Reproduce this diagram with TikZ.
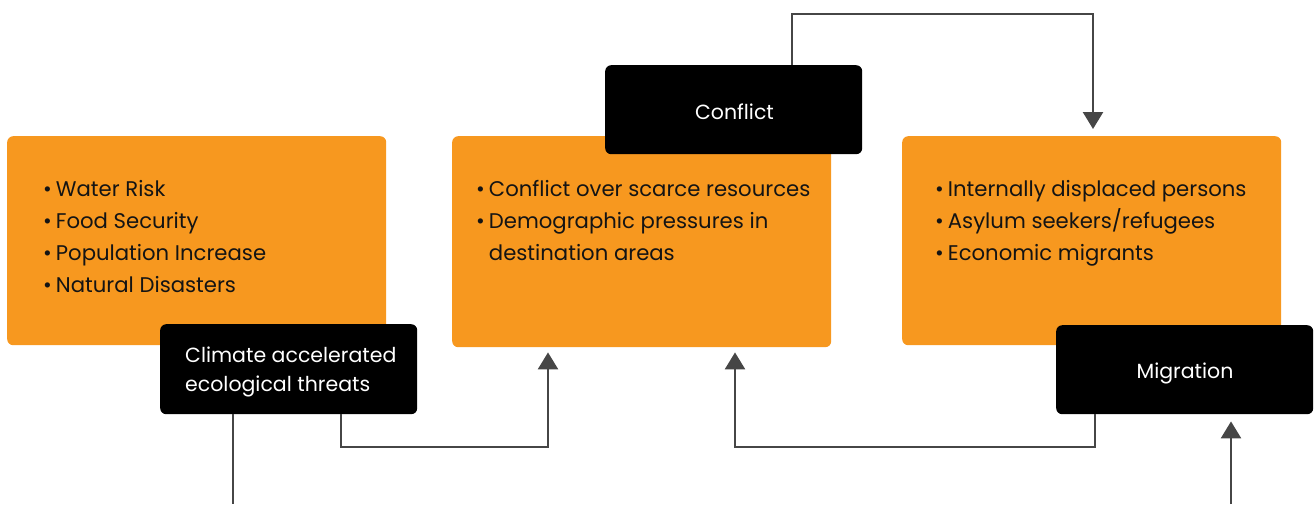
\documentclass[tikz,border=0pt]{standalone}
\usepackage{fontspec}
\setmainfont{Poppins}
\usetikzlibrary{arrows.meta}
\definecolor{orng}{HTML}{F7981F}
\definecolor{linec}{HTML}{464646}
\definecolor{txt}{HTML}{141414}
\begin{document}
\begin{tikzpicture}[x=1pt,y=-1pt,
  obox/.style={fill=orng, rounded corners=6pt, minimum width=379pt, inner sep=0pt, anchor=north west},
  bbox/.style={fill=black, rounded corners=6pt, minimum width=257pt, minimum height=90pt, inner sep=0pt, anchor=north west},
  wtext/.style={text=white, inner sep=0pt, font=\fontsize{20.5}{29.4}\selectfont},
  ltext/.style={text=txt, inner sep=0pt, anchor=north west, font=\fontsize{21.2}{32}\selectfont},
  link/.style={draw=linec, line width=2.5pt},
  conn/.style={link, -{Triangle[width=20pt,length=17pt]}},
]
\useasboundingbox (0,0) rectangle (1314,504);

% orange boxes
\node[obox, minimum height=209pt] (o1) at (7,136) {};
\node[obox, minimum height=211pt] (o2) at (452,136) {};
\node[obox, minimum height=209pt] (o3) at (902,136) {};

% list texts
\node[ltext] (o1t) at (43,173.6) {\begin{tabular}{@{}l@{\hspace{4pt}}l@{}}
•&Water Risk\\
•&Food Security\\
•&Population Increase\\
•&Natural Disasters
\end{tabular}};
\node[ltext] (o2t) at (476,173.6) {\begin{tabular}{@{}l@{\hspace{4pt}}l@{}}
•&Conflict over scarce resources\\
•&Demographic pressures in\\
&destination areas
\end{tabular}};
\node[ltext] (o3t) at (935,173.6) {\begin{tabular}{@{}l@{\hspace{4pt}}l@{}}
•&Internally displaced persons\\
•&Asylum seekers/refugees\\
•&Economic migrants
\end{tabular}};

% black boxes
\node[bbox] (climate) at (160,324) {};
\node[bbox, minimum height=89pt] (conflict) at (605,65) {};
\node[bbox, minimum height=89pt] (migration) at (1056,325) {};

\node[wtext, anchor=base west, align=left] (climatet) at (185,391.7) {Climate accelerated\\ecological threats};
\node[wtext, anchor=base] (conflictt) at (734.5,119) {Conflict};
\node[wtext, anchor=base] (migrationt) at (1185,378) {Migration};

% connectors
\coordinate (k1) at (792,14);
\coordinate (k2) at (1093,14);
\draw[conn, shorten >=7pt] (conflict.north -| k1) -- (k1) -- (k2) -- (o3.north -| k2);

\coordinate (c1) at (341,447);
\coordinate (c2) at (548,447);
\draw[conn, shorten >=5pt] (climate.south -| c1) -- (c1) -- (c2) -- (o2.south -| c2);

\coordinate (m1) at (1095,447);
\coordinate (m2) at (735,447);
\draw[conn, shorten >=5pt] (migration.south -| m1) -- (m1) -- (m2) -- (o2.south -| m2);

\coordinate (b1) at (233,504);
\draw[link] (climate.south -| b1) -- (b1);

\coordinate (b2) at (1231,504);
\draw[conn, shorten >=7pt] (b2) -- (migration.south -| b2);
\end{tikzpicture}
\end{document}
